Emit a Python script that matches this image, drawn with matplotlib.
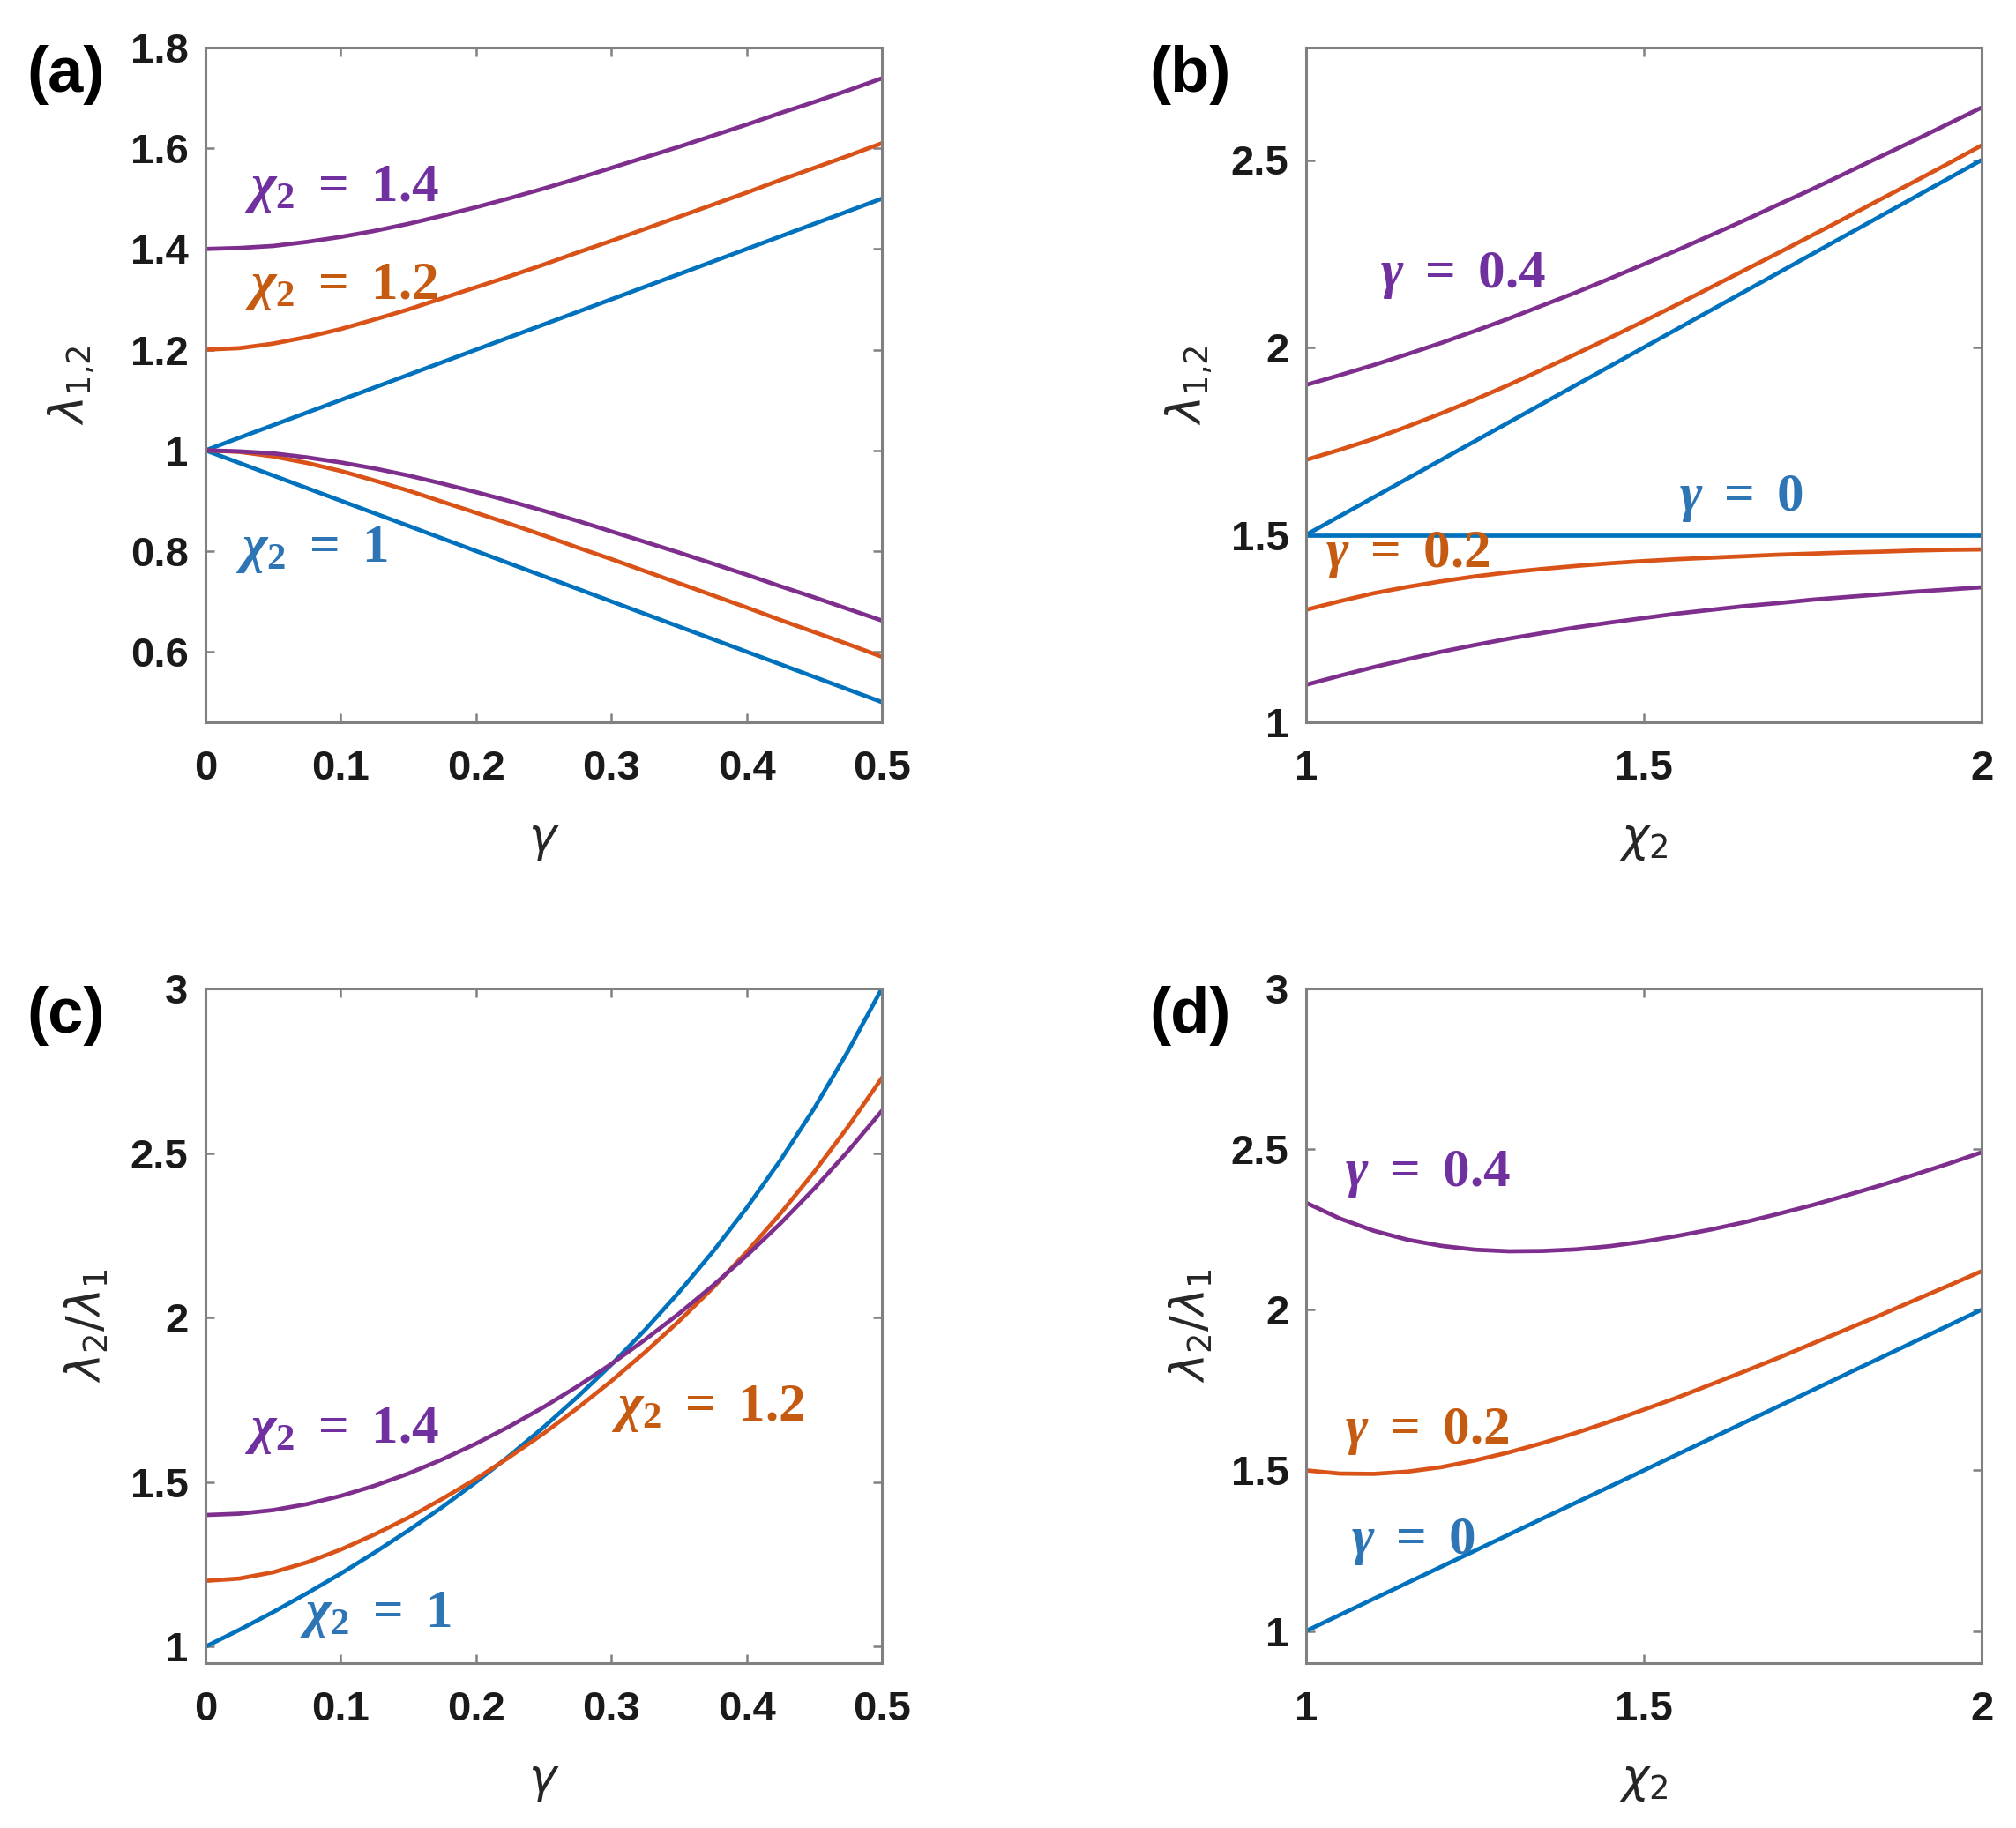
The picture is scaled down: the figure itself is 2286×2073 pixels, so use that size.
import matplotlib
matplotlib.use('Agg')
import matplotlib.pyplot as plt

plt.rcParams['mathtext.fontset'] = 'custom'
plt.rcParams['mathtext.it'] = 'Liberation Serif:italic:bold'
plt.rcParams['mathtext.rm'] = 'Liberation Serif:bold'
plt.rcParams['mathtext.bf'] = 'Liberation Serif:bold'

BLUE = '#0072BD'
ORANGE = '#D95319'
PURPLE = '#7E2F8E'
TBLUE = '#2E75B6'
TORANGE = '#C55A11'
TPURPLE = '#7030A0'

# panels (a) and (c): x = gamma
gamma = [0, 0.025, 0.05, 0.075, 0.1, 0.125, 0.15, 0.175, 0.2, 0.225, 0.25,
         0.275, 0.3, 0.325, 0.35, 0.375, 0.4, 0.425, 0.45, 0.475, 0.5]
a_up_10 = [1.0, 1.025, 1.05, 1.075, 1.1, 1.125, 1.15, 1.175, 1.2, 1.225, 1.25,
           1.275, 1.3, 1.325, 1.35, 1.375, 1.4, 1.425, 1.45, 1.475, 1.5]
a_lo_10 = [1.0, 0.975, 0.95, 0.925, 0.9, 0.875, 0.85, 0.825, 0.8, 0.775, 0.75,
           0.725, 0.7, 0.675, 0.65, 0.625, 0.6, 0.575, 0.55, 0.525, 0.5]
a_up_12 = [1.2, 1.203, 1.212, 1.225, 1.241, 1.260, 1.280, 1.302, 1.324, 1.346, 1.369,
           1.393, 1.416, 1.440, 1.464, 1.488, 1.512, 1.537, 1.561, 1.585, 1.610]
a_lo_12 = [1.0, 0.997, 0.988, 0.975, 0.959, 0.940, 0.920, 0.898, 0.876, 0.854, 0.831,
           0.807, 0.784, 0.760, 0.736, 0.712, 0.688, 0.663, 0.639, 0.615, 0.590]
a_up_14 = [1.4, 1.402, 1.406, 1.414, 1.424, 1.436, 1.450, 1.466, 1.483, 1.501, 1.520,
           1.540, 1.561, 1.582, 1.603, 1.625, 1.647, 1.670, 1.692, 1.715, 1.739]
a_lo_14 = [1.0, 0.998, 0.994, 0.986, 0.976, 0.964, 0.950, 0.934, 0.917, 0.899, 0.880,
           0.860, 0.839, 0.818, 0.797, 0.775, 0.753, 0.730, 0.708, 0.685, 0.662]

c_10 = [1.0, 1.051, 1.105, 1.162, 1.222, 1.286, 1.353, 1.424, 1.5, 1.581, 1.667,
        1.759, 1.857, 1.963, 2.077, 2.2, 2.333, 2.478, 2.636, 2.810, 3.0]
c_12 = [1.2, 1.207, 1.226, 1.256, 1.295, 1.341, 1.392, 1.449, 1.510, 1.577, 1.648,
        1.725, 1.807, 1.895, 1.989, 2.090, 2.199, 2.316, 2.443, 2.580, 2.728]
c_14 = [1.4, 1.404, 1.415, 1.433, 1.458, 1.489, 1.526, 1.569, 1.617, 1.670, 1.728,
        1.791, 1.859, 1.933, 2.012, 2.097, 2.188, 2.286, 2.392, 2.506, 2.628]

# panels (b) and (d): x = chi2
chi2 = [1.0, 1.05, 1.1, 1.15, 1.2, 1.25, 1.3, 1.35, 1.4, 1.45, 1.5,
        1.55, 1.6, 1.65, 1.7, 1.75, 1.8, 1.85, 1.9, 1.95, 2.0]
b_up_00 = [1.5, 1.55, 1.6, 1.65, 1.7, 1.75, 1.8, 1.85, 1.9, 1.95, 2.0,
           2.05, 2.1, 2.15, 2.2, 2.25, 2.3, 2.35, 2.4, 2.45, 2.5]
b_lo_00 = [1.5] * 21
b_up_02 = [1.7, 1.727, 1.756, 1.789, 1.824, 1.861, 1.9, 1.941, 1.983, 2.026, 2.070,
           2.115, 2.161, 2.207, 2.253, 2.3, 2.347, 2.395, 2.442, 2.490, 2.539]
b_lo_02 = [1.3, 1.323, 1.344, 1.361, 1.376, 1.389, 1.4, 1.409, 1.417, 1.424, 1.430,
           1.435, 1.439, 1.443, 1.447, 1.45, 1.453, 1.455, 1.458, 1.460, 1.461]
b_up_04 = [1.9, 1.926, 1.953, 1.982, 2.012, 2.044, 2.077, 2.112, 2.147, 2.184, 2.222,
           2.260, 2.3, 2.340, 2.382, 2.423, 2.466, 2.509, 2.552, 2.596, 2.640]
b_lo_04 = [1.1, 1.124, 1.147, 1.168, 1.188, 1.206, 1.223, 1.238, 1.253, 1.266, 1.278,
           1.290, 1.3, 1.310, 1.318, 1.327, 1.334, 1.341, 1.348, 1.354, 1.360]

d_00 = [1.0, 1.05, 1.1, 1.15, 1.2, 1.25, 1.3, 1.35, 1.4, 1.45, 1.5,
        1.55, 1.6, 1.65, 1.7, 1.75, 1.8, 1.85, 1.9, 1.95, 2.0]
d_02 = [1.5, 1.490, 1.489, 1.496, 1.510, 1.531, 1.556, 1.585, 1.617, 1.652, 1.689,
        1.727, 1.768, 1.809, 1.851, 1.895, 1.939, 1.983, 2.029, 2.074, 2.120]
d_04 = [2.333, 2.284, 2.246, 2.218, 2.199, 2.187, 2.182, 2.183, 2.188, 2.198, 2.212,
        2.230, 2.25, 2.273, 2.299, 2.326, 2.356, 2.387, 2.420, 2.454, 2.490]

fig = plt.figure(figsize=(22.86, 20.73), dpi=100)
W, H = 2286, 2073
def box(l, t, r, b):
    return [l / W, 1 - b / H, (r - l) / W, (b - t) / H]

ax1 = fig.add_axes(box(233, 54, 1000, 819))
ax2 = fig.add_axes(box(1481, 54, 2247, 819))
ax3 = fig.add_axes(box(233, 1121, 1000, 1886))
ax4 = fig.add_axes(box(1481, 1121, 2247, 1886))

lw = 3.4
ax1.plot(gamma, a_up_10, color=BLUE, lw=lw)
ax1.plot(gamma, a_lo_10, color=BLUE, lw=lw)
ax1.plot(gamma, a_up_12, color=ORANGE, lw=lw)
ax1.plot(gamma, a_lo_12, color=ORANGE, lw=lw)
ax1.plot(gamma, a_up_14, color=PURPLE, lw=lw)
ax1.plot(gamma, a_lo_14, color=PURPLE, lw=lw)

ax2.plot(chi2, b_up_00, color=BLUE, lw=lw)
ax2.plot(chi2, b_lo_00, color=BLUE, lw=lw)
ax2.plot(chi2, b_up_02, color=ORANGE, lw=lw)
ax2.plot(chi2, b_lo_02, color=ORANGE, lw=lw)
ax2.plot(chi2, b_up_04, color=PURPLE, lw=lw)
ax2.plot(chi2, b_lo_04, color=PURPLE, lw=lw)

ax3.plot(gamma, c_10, color=BLUE, lw=lw)
ax3.plot(gamma, c_12, color=ORANGE, lw=lw)
ax3.plot(gamma, c_14, color=PURPLE, lw=lw)

ax4.plot(chi2, d_00, color=BLUE, lw=lw)
ax4.plot(chi2, d_02, color=ORANGE, lw=lw)
ax4.plot(chi2, d_04, color=PURPLE, lw=lw)

ax1.set_xlim(0, 0.5); ax1.set_ylim(0.46, 1.8)
ax1.set_xticks([0, 0.1, 0.2, 0.3, 0.4, 0.5])
ax1.set_xticklabels(['0', '0.1', '0.2', '0.3', '0.4', '0.5'])
ax1.set_yticks([0.6, 0.8, 1, 1.2, 1.4, 1.6, 1.8])
ax1.set_yticklabels(['0.6', '0.8', '1', '1.2', '1.4', '1.6', '1.8'])

ax2.set_xlim(1, 2); ax2.set_ylim(1, 2.8)
ax2.set_xticks([1, 1.5, 2]); ax2.set_xticklabels(['1', '1.5', '2'])
ax2.set_yticks([1, 1.5, 2, 2.5]); ax2.set_yticklabels(['1', '1.5', '2', '2.5'])

ax3.set_xlim(0, 0.5); ax3.set_ylim(0.95, 3)
ax3.set_xticks([0, 0.1, 0.2, 0.3, 0.4, 0.5])
ax3.set_xticklabels(['0', '0.1', '0.2', '0.3', '0.4', '0.5'])
ax3.set_yticks([1, 1.5, 2, 2.5, 3]); ax3.set_yticklabels(['1', '1.5', '2', '2.5', '3'])

ax4.set_xlim(1, 2); ax4.set_ylim(0.9, 3)
ax4.set_xticks([1, 1.5, 2]); ax4.set_xticklabels(['1', '1.5', '2'])
ax4.set_yticks([1, 1.5, 2, 2.5, 3]); ax4.set_yticklabels(['1', '1.5', '2', '2.5', '3'])

for ax in [ax1, ax2, ax3, ax4]:
    for s in ax.spines.values():
        s.set_color('#808080')
        s.set_linewidth(2.2)
    ax.tick_params(direction='in', top=True, right=True, length=7, width=1.8,
                   color='#808080', labelsize=34, labelcolor='#1a1a1a')
    ax.tick_params(axis='x', pad=22)
    ax.tick_params(axis='y', pad=14)
    for lab in ax.get_xticklabels() + ax.get_yticklabels():
        lab.set_fontfamily('Liberation Sans')
        lab.set_fontweight('bold')

lab_kw = dict(fontsize=38, color='#262626', math_fontfamily='dejavusans')
ax1.set_ylabel(r'$\lambda_{1{,}2}$', **lab_kw)
ax2.set_ylabel(r'$\lambda_{1{,}2}$', **lab_kw)
ax3.set_ylabel(r'$\lambda_2/\lambda_1$', **lab_kw)
ax4.set_ylabel(r'$\lambda_2/\lambda_1$', **lab_kw)
ax1.set_xlabel(r'$\gamma$', **lab_kw)
ax2.set_xlabel(r'$\chi_2$', **lab_kw)
ax3.set_xlabel(r'$\gamma$', **lab_kw)
ax4.set_xlabel(r'$\chi_2$', **lab_kw)
ax1.yaxis.set_label_coords(-0.16, 0.5)
ax2.yaxis.set_label_coords(-0.136, 0.5)
ax3.yaxis.set_label_coords(-0.141, 0.5)
ax4.yaxis.set_label_coords(-0.136, 0.5)
for ax in [ax1, ax2, ax3, ax4]:
    ax.xaxis.set_label_coords(0.5, -0.14)

ann = dict(fontsize=44, math_fontfamily='custom', va='center', ha='left')
ax1.text(0.0285, 1.52, r'$\chi_2\ =\ 1.4$', color=TPURPLE, **ann)
ax1.text(0.0285, 1.327, r'$\chi_2\ =\ 1.2$', color=TORANGE, **ann)
ax1.text(0.022, 0.805, r'$\chi_2\ =\ 1$', color=TBLUE, **ann)

ax2.text(1.11, 2.193, r'$\gamma\ =\ 0.4$', color=TPURPLE, **ann)
ax2.text(1.552, 1.60, r'$\gamma\ =\ 0$', color=TBLUE, **ann)
ax2.text(1.029, 1.449, r'$\gamma\ =\ 0.2$', color=TORANGE, **ann)

ax3.text(0.0285, 1.659, r'$\chi_2\ =\ 1.4$', color=TPURPLE, **ann)
ax3.text(0.300, 1.725, r'$\chi_2\ =\ 1.2$', color=TORANGE, **ann)
ax3.text(0.069, 1.098, r'$\chi_2\ =\ 1$', color=TBLUE, **ann)

ax4.text(1.057, 2.426, r'$\gamma\ =\ 0.4$', color=TPURPLE, **ann)
ax4.text(1.057, 1.622, r'$\gamma\ =\ 0.2$', color=TORANGE, **ann)
ax4.text(1.067, 1.281, r'$\gamma\ =\ 0$', color=TBLUE, **ann)

pan = dict(fontsize=52, fontweight='bold', fontfamily='Liberation Sans',
           ha='center', va='center')
fig.text(75 / W, 1 - 85 / H, '(a)', **pan)
fig.text(1350 / W, 1 - 85 / H, '(b)', **pan)
fig.text(75 / W, 1 - 1152 / H, '(c)', **pan)
fig.text(1350 / W, 1 - 1152 / H, '(d)', **pan)

fig.savefig('out.png', dpi=100)
